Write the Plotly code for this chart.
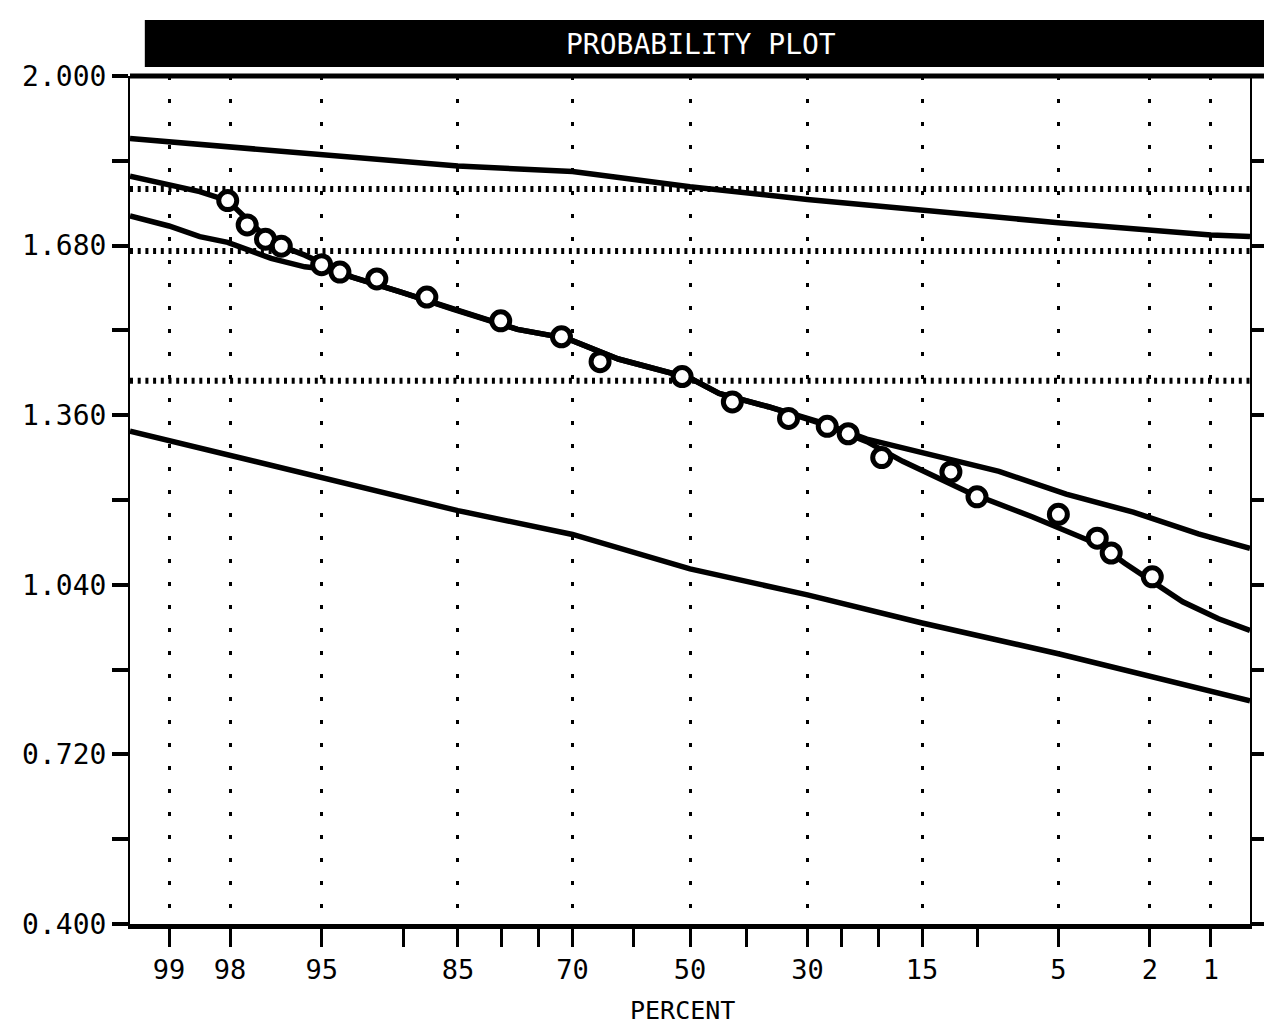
import plotly.graph_objects as go
from statistics import NormalDist

# ---------------- data ----------------
# probability axis: exceedance percent
x_range_pct = [99.38, 0.62]
tick_pct_labeled = [99, 98, 95, 85, 70, 50, 30, 15, 5, 2, 1]
tick_text_labeled = ["99", "98", "95", "85", "70", "50", "30", "15", "5", "2", "1"]
tick_pct_unlabeled = [90, 80, 75, 60, 40, 25, 20, 10]

y_range = [0.400, 2.000]
y_tick_vals = [0.400, 0.720, 1.040, 1.360, 1.680, 2.000]
y_tick_text = ["0.400", "0.720", "1.040", "1.360", "1.680", "2.000"]
y_minor_vals = [0.560, 0.880, 1.200, 1.520, 1.840]

# observations (open circles)
obs_pct = [98.05, 97.6, 97.1, 96.6, 95.0, 94.1, 91.9, 88.0, 80.1, 71.7, 65.6, 51.4,
           42.5, 33.0, 27.0, 24.0, 19.6, 12.2, 10.0, 5.0, 3.45, 3.0, 1.95]
obs_val = [1.765, 1.719, 1.692, 1.679, 1.644, 1.630, 1.617, 1.583, 1.538, 1.508, 1.461, 1.433,
           1.385, 1.354, 1.339, 1.325, 1.280, 1.253, 1.206, 1.173, 1.128, 1.100, 1.055]

# horizontal dotted reference levels
ref_levels = [1.787, 1.670, 1.425]

# upper bound line
upper_pct = [99.38, 95, 85, 70, 50, 30, 15, 5, 1, 0.62]
upper_val = [1.882, 1.853, 1.830, 1.820, 1.791, 1.767, 1.747, 1.723, 1.700, 1.697]

# lower bound line
lower_pct = [99.38, 98, 95, 85, 70, 50, 30, 15, 5, 2, 0.62]
lower_val = [1.330, 1.285, 1.243, 1.180, 1.135, 1.070, 1.021, 0.968, 0.910, 0.868, 0.821]

# fitted curve 1
fit1_pct = [99.38, 99.0, 98.57, 98.05, 97.5, 96.93, 95.73, 94.84, 93.45, 90.15, 85.54, 77.94,
            70.88, 62.55, 50.0, 44.83, 36.32, 28.1, 21.48, 14.0, 8.38, 4.65, 2.39, 1.16, 0.62]
fit1_val = [1.811, 1.796, 1.782, 1.765, 1.723, 1.686, 1.662, 1.644, 1.621, 1.592, 1.560, 1.522,
            1.505, 1.466, 1.430, 1.401, 1.376, 1.347, 1.315, 1.285, 1.254, 1.211, 1.177, 1.136, 1.109]

# fitted curve 2
fit2_pct = [99.38, 99.0, 98.57, 98.05, 96.93, 95.73, 94.84, 93.45, 90.15, 85.54, 77.94, 70.88,
            62.55, 50.0, 44.83, 36.32, 28.1, 21.48, 17.11, 10.75, 6.30, 3.36, 2.62, 1.39, 0.914, 0.62]
fit2_val = [1.736, 1.717, 1.697, 1.686, 1.656, 1.640, 1.636, 1.621, 1.592, 1.560, 1.522, 1.505,
            1.466, 1.430, 1.401, 1.376, 1.345, 1.310, 1.273, 1.215, 1.168, 1.115, 1.081, 1.008, 0.976, 0.954]

# ---------------- scale ----------------
nd = NormalDist()


def probit(pct):
    return nd.inv_cdf(1 - pct / 100.0)


def px(lst):
    return [probit(p) for p in lst]


x_lo, x_hi = probit(x_range_pct[0]), probit(x_range_pct[1])

# ---------------- layout geometry (pixels) ----------------
W, H = 1272, 1026
L, R, T, B = 122, 16, 68, 110
PW, PH = W - L - R, H - T - B


def pxx(x):  # pixel x -> paper
    return (x - L) / PW


def pxy(y):  # pixel y -> paper
    return (H - B - y) / PH


FONT = "DejaVu Sans Mono"
BLACK = "black"

fig = go.Figure()

for lvl in ref_levels:
    fig.add_trace(go.Scatter(
        x=[x_lo, x_hi], y=[lvl, lvl], mode="lines",
        line=dict(color=BLACK, width=6, dash="3px,4.7px"),
        hoverinfo="skip", showlegend=False))

for xs, ys in [(upper_pct, upper_val), (lower_pct, lower_val),
               (fit1_pct, fit1_val), (fit2_pct, fit2_val)]:
    fig.add_trace(go.Scatter(
        x=px(xs), y=ys, mode="lines",
        line=dict(color=BLACK, width=5.5),
        showlegend=False))

fig.add_trace(go.Scatter(
    x=px(obs_pct), y=obs_val, mode="markers",
    marker=dict(symbol="circle", size=18, color="white",
                line=dict(color=BLACK, width=5)),
    showlegend=False))

fig.update_layout(
    width=W, height=H,
    margin=dict(l=L, r=R, t=T, b=B),
    paper_bgcolor="white", plot_bgcolor="white",
    font=dict(family=FONT, size=28, color=BLACK),
    showlegend=False,
    xaxis=dict(
        range=[x_lo, x_hi],
        tickmode="array",
        tickvals=px(tick_pct_labeled),
        ticktext=tick_text_labeled,
        ticks="outside", ticklen=18, tickwidth=3, tickcolor=BLACK,
        showline=True, linewidth=5, linecolor=BLACK, mirror=False,
        showgrid=True, gridcolor=BLACK, gridwidth=3, griddash="4px,19px",
        zeroline=False,
        tickfont=dict(family=FONT, size=27, color=BLACK),
        minor=dict(tickmode="array", tickvals=px(tick_pct_unlabeled),
                   ticks="outside", ticklen=18, tickwidth=3, tickcolor=BLACK,
                   showgrid=False),
    ),
    yaxis=dict(
        range=y_range,
        tickmode="array",
        tickvals=y_tick_vals,
        ticktext=y_tick_text,
        ticks="outside", ticklen=16, tickwidth=4, tickcolor=BLACK,
        showline=True, linewidth=2, linecolor=BLACK, mirror="ticks",
        showgrid=False, zeroline=False,
        tickfont=dict(family=FONT, size=28, color=BLACK),
        minor=dict(tickmode="array", tickvals=y_minor_vals,
                   ticks="outside", ticklen=16, tickwidth=4, tickcolor=BLACK,
                   showgrid=False),
    ),
)

# top frame line (thick, running out to page edge) and title bar
fig.add_shape(type="line", xref="paper", yref="paper",
              x0=0, x1=pxx(W + 5), y0=1, y1=1,
              line=dict(color=BLACK, width=5))
fig.add_shape(type="rect", xref="paper", yref="paper",
              x0=pxx(137), x1=pxx(W + 5), y0=pxy(59), y1=pxy(12),
              fillcolor=BLACK, line=dict(width=0))
fig.add_annotation(text="PROBABILITY PLOT", xref="paper", yref="paper",
                   x=pxx(700), y=pxy(36), xanchor="center", yanchor="middle",
                   showarrow=False, font=dict(family=FONT, size=28, color="white"))
fig.add_annotation(text="PERCENT", xref="paper", yref="paper",
                   x=pxx(681), y=pxy(1003), xanchor="center", yanchor="middle",
                   showarrow=False, font=dict(family=FONT, size=25, color=BLACK))
# scan edge mark at bottom-left
fig.add_shape(type="line", xref="paper", yref="paper",
              x0=pxx(0), x1=pxx(205), y0=pxy(1022), y1=pxy(1022),
              line=dict(color=BLACK, width=4))

fig.write_html("out.html")
